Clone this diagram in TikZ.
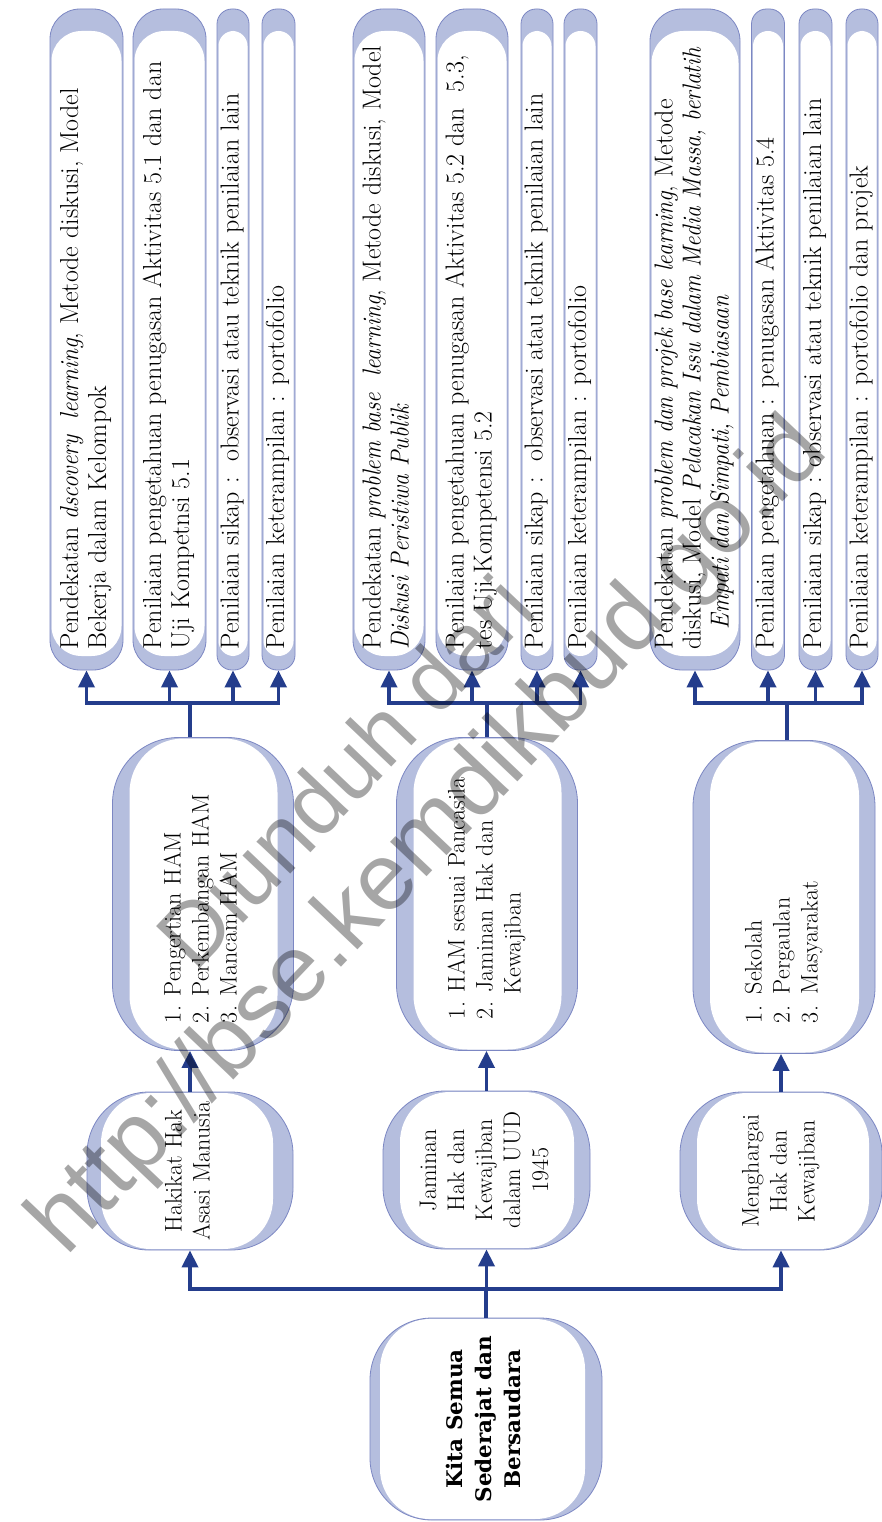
\documentclass[tikz,border=0pt]{standalone}
\usepackage{fontspec}
\usepackage{graphicx}
\usetikzlibrary{arrows.meta, positioning}
\setmainfont{lmroman17-regular.otf}[ItalicFont=lmroman12-italic.otf,
  BoldFont=lmroman12-bold.otf, ItalicFeatures={FakeStretch=0.9}]
\newfontfamily\wmfont{Liberation Sans}
\newfontfamily\rootfont{DejaVu Serif}
\definecolor{boxfill}{HTML}{B5BEDE}
\definecolor{boxline}{HTML}{7C87C3}
\definecolor{linkblue}{HTML}{243D8C}
\newcommand{\uptext}[2]{\rotatebox{90}{\makebox[#1][l]{\begin{tabular}{@{}l@{}}#2\end{tabular}}}}
\newcommand{\upmid}[1]{\rotatebox{90}{\begin{tabular}{@{}c@{}}#1\end{tabular}}}

\tikzset{
  cushion/.style n args={5}{path picture={\fill[white, rounded corners=#5pt]
    ([xshift=#1pt, yshift=#3pt]path picture bounding box.south west) rectangle
    ([xshift=-#2pt, yshift=-#4pt]path picture bounding box.north east);}},
  box/.style={draw=boxline, line width=0.8pt, fill=boxfill, inner sep=0pt,
    font=\fontsize{24}{28}\selectfont},
  leaf/.style 2 args={box, minimum width=#1pt, minimum height=661pt,
    rounded corners=#2pt, cushion={1.5}{1.5}{14}{22}{#2},
    font=\fontsize{26}{28}\selectfont},
  topic/.style={box, minimum width=181pt, minimum height=313pt,
    rounded corners=66pt, cushion={17}{16}{1}{1}{54}},
  subtopic/.style={box, minimum height=158pt, rounded corners=62pt},
  rootbox/.style={box, minimum width=232pt, minimum height=202pt,
    rounded corners=62pt, cushion={10}{17}{1}{1}{50},
    font=\rootfont\bfseries\fontsize{21.5}{29}\selectfont},
  link/.style={draw=linkblue, line width=3.8pt},
  linkarrow/.style={link, -{Triangle[length=17pt,width=16pt]}},
  wmark/.style={font=\wmfont\fontsize{95}{100}\selectfont, text=black,
    text opacity=0.35, rotate=46.5, anchor=base, inner sep=0pt}
}

\begin{document}
\begin{tikzpicture}[x=1pt, y=-1pt]
\fill[white] (0,0) rectangle (882,1522);
\useasboundingbox (0,0) rectangle (882,1522);

% root
\node[rootbox] (R) at (486,1419) {\upmid{Kita Semua\\ Sederajat dan\\ Bersaudara}};

% sub topics
\node[subtopic, minimum width=206pt, cushion={14}{20}{1}{1}{50}] (K1) at (190,1171)
  {\upmid{Hakikat Hak\\ Asasi Manusia}};
\node[subtopic, minimum width=207pt, cushion={17}{16}{1}{1}{50}] (K2) at (486.5,1170)
  {\upmid{Jaminan\\ Hak dan\\ Kewajiban\\ dalam UUD\\ 1945}};
\node[subtopic, minimum width=202pt, cushion={17}{13}{1}{1}{50}] (K3) at (781,1171)
  {\upmid{Menghargai\\ Hak dan\\ Kewajiban}};

% materials
\node[topic] (L1) at (203,894)
  {\uptext{258pt}{1. Pengertian HAM\\ 2. Perkembangan HAM\\ 3. Mancam HAM}};
\node[topic] (L2) at (487,894)
  {\uptext{250pt}{1. HAM sesuai Pancasila\\ 2. Jaminan Hak dan\\ \hphantom{2.\ }Kewajiban}};
\node[topic, minimum width=182pt] (L3) at (784,897)
  {\uptext{252pt}{1.\enspace Sekolah\\ 2.\enspace Pergaulan\\ 3.\enspace Masyarakat}};

% learning and assessment
\node[leaf={73}{30}] (A1) at (86.5,339.5)
  {\uptext{620pt}{Pendekatan \textit{dscovery\ \ learning}, Metode diskusi, Model\\ Bekerja dalam Kelompok}};
\node[leaf={73}{30}] (A2) at (169.5,339.5)
  {\uptext{620pt}{Penilaian pengetahuan penugasan Aktivitas 5.1 dan dan\\ Uji Kompetnsi 5.1}};
\node[leaf={32}{15}] (A3) at (233,339.5)
  {\uptext{620pt}{Penilaian sikap :\ \ observasi atau teknik penilaian lain}};
\node[leaf={33}{15}] (A4) at (278.5,339.5)
  {\uptext{620pt}{Penilaian keterampilan : portofolio}};

\node[leaf={72}{30}] (B1) at (389,339.5)
  {\uptext{620pt}{Pendekatan \textit{problem base\ \ learning}, Metode diskusi, Model\\ \textit{Diskusi Peristiwa Publik}}};
\node[leaf={72}{30}] (B2) at (472,339.5)
  {\uptext{620pt}{Penilaian pengetahuan penugasan Aktivitas 5.2 dan\ \ 5.3,\\ tes Uji Kompetensi 5.2}};
\node[leaf={32}{15}] (B3) at (537,339.5)
  {\uptext{620pt}{Penilaian sikap :\ \ observasi atau teknik penilaian lain}};
\node[leaf={33}{15}] (B4) at (580.5,339.5)
  {\uptext{620pt}{Penilaian keterampilan : portofolio}};

\node[leaf={90}{32}] (C1) at (695,339.5)
  {\uptext{620pt}{Pendekatan \textit{problem dan projek base learning}, Metode\\ diskusi, Model \textit{Pelacakan Issu dalam Media Massa, berlatih}\\ \hspace*{20pt}\textit{Empati dan Simpati, Pembiasaan}}};
\node[leaf={33}{15}] (C2) at (768,339.5)
  {\uptext{620pt}{Penilaian pengetahuan : penugasan Aktivitas 5.4}};
\node[leaf={33}{15}] (C3) at (815.5,339.5)
  {\uptext{620pt}{Penilaian sikap : observasi atau teknik penilaian lain}};
\node[leaf={32}{15}] (C4) at (862,339.5)
  {\uptext{620pt}{Penilaian keterampilan : portofolio dan projek}};

% root to sub topics
\coordinate (g0) at (486,1289);
\draw[link] (R.north) -- (g0);
\draw[link, line cap=rect] (K1.south |- g0) -- (K3.south |- g0);
\draw[linkarrow] (K1.south |- g0) -- (K1.south);
\draw[linkarrow] (K2.south |- g0) -- (K2.south);
\draw[linkarrow] (K3.south |- g0) -- (K3.south);

% sub topics to materials
\draw[linkarrow] (K1.north) -- (K1.north |- L1.south);
\draw[linkarrow] (K2.north) -- (K2.north |- L2.south);
\draw[linkarrow] (K3.north) -- (K3.north |- L3.south);

% materials to leaves
\coordinate (g1) at (190,703);
\draw[link] (L1.north -| g1) -- (g1);
\draw[link, line cap=rect] (A1.south |- g1) -- (A4.south |- g1);
\draw[linkarrow] (A1.south |- g1) -- (A1.south);
\draw[linkarrow] (A2.south |- g1) -- (A2.south);
\draw[linkarrow] (A3.south |- g1) -- (A3.south);
\draw[linkarrow] (A4.south |- g1) -- (A4.south);

\coordinate (g2) at (487,703);
\draw[link] (L2.north) -- (g2);
\draw[link, line cap=rect] (B1.south |- g2) -- (B4.south |- g2);
\draw[linkarrow] (B1.south |- g2) -- (B1.south);
\draw[linkarrow] (B2.south |- g2) -- (B2.south);
\draw[linkarrow] (B3.south |- g2) -- (B3.south);
\draw[linkarrow] (B4.south |- g2) -- (B4.south);

\coordinate (g3) at (787,703);
\draw[link] (L3.north -| g3) -- (g3);
\draw[link, line cap=rect] (C1.south |- g3) -- (C4.south |- g3);
\draw[linkarrow] (C1.south |- g3) -- (C1.south);
\draw[linkarrow] (C2.south |- g3) -- (C2.south);
\draw[linkarrow] (C3.south |- g3) -- (C3.south);
\draw[linkarrow] (C4.south |- g3) -- (C4.south);

% watermark
\node[wmark, font=\wmfont\fontsize{88}{100}\selectfont] (wm1) at (367,793) {Diunduh dari};
\node[wmark] (wm2) at (448,855) {http://bse.kemdikbud.go.id};
\end{tikzpicture}
\end{document}
